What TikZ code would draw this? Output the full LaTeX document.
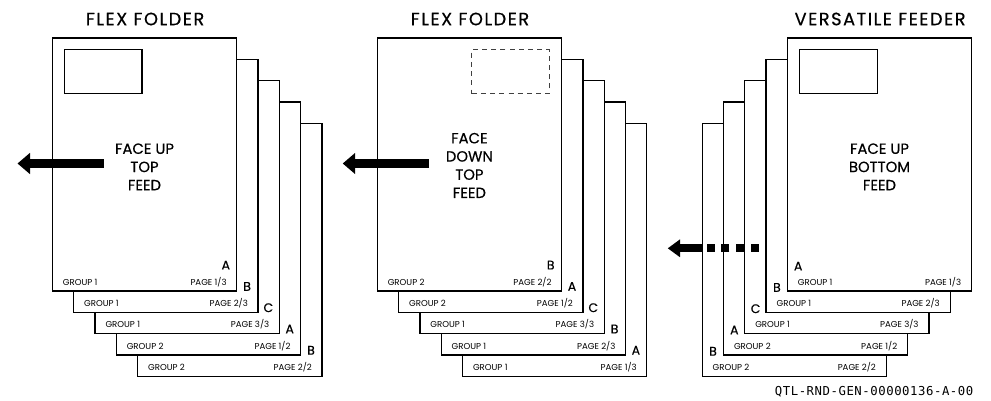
\documentclass[tikz,border=0pt]{standalone}
\usepackage{fontspec}
\setmainfont{Poppins}
\newfontfamily\headfont[FakeBold=0.5, LetterSpace=8.5]{Poppins}
\newfontfamily\bodyfont[FakeBold=0.4]{Poppins}
\newfontfamily\codefont[LetterSpace=4.5]{DejaVu Sans Mono}
\usetikzlibrary{arrows.meta}

\tikzset{
  sheet/.style={draw, line width=1.3pt, fill=white, minimum width=184.3pt,
    minimum height=253pt, inner sep=0pt, anchor=north west},
  title/.style={font=\headfont\fontsize{17.8}{19}\selectfont, inner sep=0pt},
  feedtext/.style={font=\bodyfont\fontsize{14.8}{18.2}\selectfont, align=center, inner sep=0pt},
  letter/.style={font=\bodyfont\fontsize{12.5}{12}\selectfont, inner sep=0pt},
  tag/.style={font=\fontsize{8.6}{10}\selectfont, inner sep=0pt},
  window/.style={draw, line width=1.2pt, minimum width=77.6pt,
    minimum height=44pt, inner sep=0pt, anchor=north west},
  feedarrow/.style={line width=9pt, -{Triangle[length=12.5pt,width=20.5pt]}},
  feedarrowsmall/.style={line width=7.8pt, -{Triangle[length=12.3pt,width=17pt]}},
}

\begin{document}
\begin{tikzpicture}[x=1pt,y=-1pt]
\useasboundingbox (0,0) rectangle (991,400);

% ---- stack 1: flex folder, face up, top feed
\foreach \k/\l/\g/\n/\m in {4/B/2/2/2,3/A/2/1/2,2/C/1/3/3,1/B/1/2/3,0/A/1/1/3}{
  \node[sheet] (p1s\k) at ({51.7+21.3*\k},{37.3+21.3*\k}) {};
  \node[letter] (p1l\k) at ([xshift=-11.5pt,yshift=26.5pt]p1s\k.south east) {\l};
  \node[tag, anchor=base west] (p1g\k) at ([xshift=11pt,yshift=6.5pt]p1s\k.south west) {GROUP \g};
  \node[tag, anchor=base east] (p1p\k) at ([xshift=-10.5pt,yshift=6.5pt]p1s\k.south east) {PAGE \n/\m};
}
\node[window] (p1win) at ([xshift=12pt,yshift=-11.7pt]p1s0.north west) {};
\node[feedtext] (p1txt) at ([yshift=-2.4pt]p1s0.center) {FACE UP\\TOP\\FEED};
\node[title] (p1title) at ([xshift=0.6pt,yshift=18.3pt]p1s0.north) {FLEX FOLDER};
\coordinate (p1tail) at (103.5,163.5);
\coordinate (p1tip) at (17.5,163.5);
\draw[feedarrow] (p1tail) -- (p1tip);

% ---- stack 2: flex folder, face down, top feed
\foreach \k/\l/\g/\n/\m in {4/A/1/1/3,3/B/1/2/3,2/C/1/3/3,1/A/2/1/2,0/B/2/2/2}{
  \node[sheet] (p2s\k) at ({376.6+21.3*\k},{37.3+21.3*\k}) {};
  \node[letter] (p2l\k) at ([xshift=-11.5pt,yshift=26.5pt]p2s\k.south east) {\l};
  \node[tag, anchor=base west] (p2g\k) at ([xshift=11pt,yshift=6.5pt]p2s\k.south west) {GROUP \g};
  \node[tag, anchor=base east] (p2p\k) at ([xshift=-10.5pt,yshift=6.5pt]p2s\k.south east) {PAGE \n/\m};
}
\node[window, draw=black!75, line width=1pt, dash pattern=on 5pt off 4.2pt, anchor=north east]
  (p2win) at ([xshift=-12.4pt,yshift=-11.7pt]p2s0.north east) {};
\node[feedtext] (p2txt) at ([yshift=-1pt]p2s0.center) {FACE\\DOWN\\TOP\\FEED};
\node[title] (p2title) at ([xshift=0.6pt,yshift=18.3pt]p2s0.north) {FLEX FOLDER};
\coordinate (p2tail) at (429,163.5);
\coordinate (p2tip) at (342.7,163.5);
\draw[feedarrow] (p2tail) -- (p2tip);

% ---- stack 3: versatile feeder, face up, bottom feed
\foreach \k/\l/\g/\n/\m in {4/B/2/2/2,3/A/2/1/2,2/C/1/3/3,1/B/1/2/3,0/A/1/1/3}{
  \node[sheet] (p3s\k) at ({786.7-21.3*\k},{37.3+21.3*\k}) {};
  \node[letter] (p3l\k) at ([xshift=11.5pt,yshift=25.5pt]p3s\k.south west) {\l};
  \node[tag, anchor=base west] (p3g\k) at ([xshift=11pt,yshift=6.5pt]p3s\k.south west) {GROUP \g};
  \node[tag, anchor=base east] (p3p\k) at ([xshift=-11pt,yshift=6.5pt]p3s\k.south east) {PAGE \n/\m};
}
\node[window] (p3win) at ([xshift=12.3pt,yshift=-11.7pt]p3s0.north west) {};
\node[feedtext] (p3txt) at ([yshift=-2.4pt]p3s0.center) {FACE UP\\BOTTOM\\FEED};
\node[title] (p3title) at ([xshift=0.6pt,yshift=18.3pt]p3s0.north) {VERSATILE FEEDER};
\coordinate (p3tail) at (758.7,248.3);
\coordinate (p3mid) at (702,248.3);
\coordinate (p3tip) at (667.7,248.3);
\draw[line width=7.8pt, dash pattern=on 8pt off 6.7pt] (p3tail) -- (p3mid);
\draw[feedarrowsmall] (p3mid) -- (p3tip);

% ---- document code
\node[font=\codefont\fontsize{12.3}{14}\selectfont, anchor=east, inner sep=0pt]
  (docid) at (973.5,391.7) {QTL-RND-GEN-00000136-A-00};
\end{tikzpicture}
\end{document}
